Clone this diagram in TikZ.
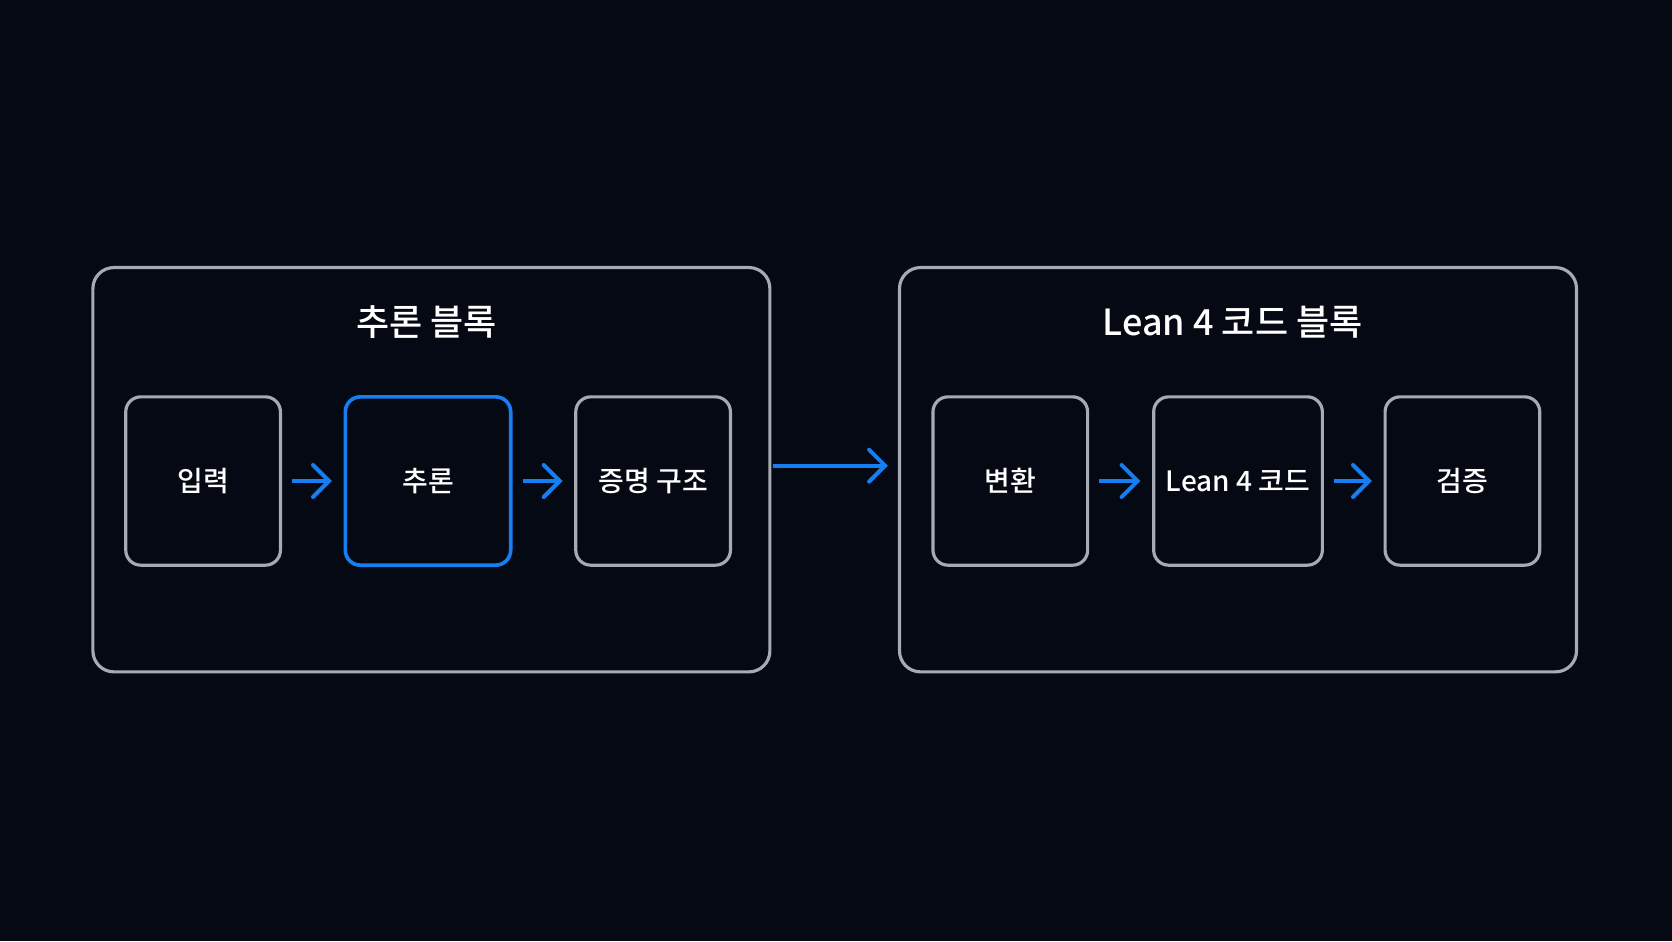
\documentclass[tikz,border=0pt]{standalone}
\usepackage{fontspec}
\setmainfont{Noto Sans CJK KR Medium}[BoldFont={Noto Sans CJK KR Medium}]
\usepackage{xcolor}
\usepackage{tikz}
\usetikzlibrary{arrows.meta}

\definecolor{bgdark}{RGB}{5,9,19}
\definecolor{boxgray}{RGB}{168,170,177}
\definecolor{flowblue}{RGB}{22,126,240}

\tikzset{
  blockbox/.style={draw=boxgray, line width=0.95pt, rounded corners=6.3pt,
    minimum width=203.1pt, minimum height=121.3pt},
  stepbox/.style={draw=boxgray, line width=0.95pt, rounded corners=4.5pt,
    minimum height=50.5pt, text=white, font=\fontsize{8.4pt}{10pt}\selectfont},
  blocktitle/.style={text=white, font=\bfseries\fontsize{10.8pt}{13pt}\selectfont},
  flow/.style={draw=flowblue, line width=1.2pt,
    -{Straight Barb[length=4.8pt, width=9.6pt, line cap=round]}}
}

\begin{document}
\begin{tikzpicture}[x=0.3pt, y=-0.3pt]
      % Background
      \fill[bgdark] (0,0) rectangle (1672,941);
      \useasboundingbox (0,0) rectangle (1672,941);

      % Reasoning block
      \node[blockbox] (reasonblock) at (431.4,469.7) {};
      \node[blocktitle] (reasontitle) at (426.5,322) {추론 블록};

      % Lean 4 code block
      \node[blockbox] (leanblock) at (1238,469.7) {};
      \node[blocktitle] (leantitle) at (1232.6,322) {Lean 4 코드 블록};

      % Steps of the reasoning block
      \node[stepbox, minimum width=46.4pt] (input) at (203.1,481) {입력};
      \node[stepbox, minimum width=49.6pt, draw=flowblue, line width=1.1pt] (reason) at (428,481) {추론};
      \node[stepbox, minimum width=46.4pt] (proof) at (653.1,481) {증명 구조};

      % Steps of the code block
      \node[stepbox, minimum width=46.4pt] (convert) at (1010.3,481) {변환};
      \node[stepbox, minimum width=50.6pt] (leancode) at (1238,481) {Lean 4 코드};
      \node[stepbox, minimum width=46.4pt] (verify) at (1462.4,481) {검증};

      % Arrows
      \draw[flow, shorten <=3pt, shorten >=3.5pt] (input) -- (reason);
      \draw[flow, shorten <=3pt, shorten >=3.5pt] (reason) -- (proof);
      \draw[flow, shorten <=0.5pt, shorten >=3pt] ([yshift=1.2pt]reasonblock.east) -- ([yshift=1.2pt]leanblock.west);
      \draw[flow, shorten <=3pt, shorten >=3.5pt] (convert) -- (leancode);
      \draw[flow, shorten <=3pt, shorten >=3.5pt] (leancode) -- (verify);

  \end{tikzpicture}
\end{document}
